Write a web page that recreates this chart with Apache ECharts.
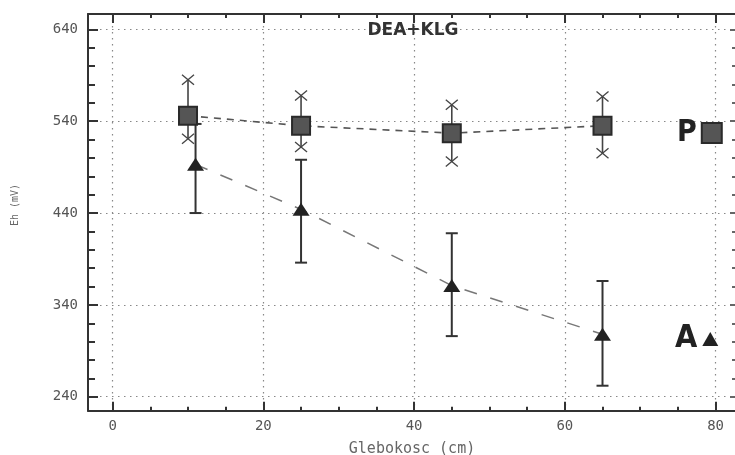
<!DOCTYPE html>
<html>
<head>
<meta charset="utf-8">
<script src="https://cdn.jsdelivr.net/npm/echarts@6/dist/echarts.min.js"></script>
<style>
  html, body { margin: 0; padding: 0; background: #ffffff; }
  #chart { width: 735px; height: 455px; }
</style>
</head>
<body>
<div id="chart"></div>
<script>
// ---- data ----
const depthP = [10, 25, 45, 65];
const pMean  = [546, 535, 527, 535];
const pLow   = [521, 512, 496, 505];
const pHigh  = [585, 568, 558, 567];

const depthA = [11, 25, 45, 65];
const aMean  = [493, 444, 361, 308];
const aLow   = [440, 386, 306, 252];
const aHigh  = [537, 498, 418, 366];

const xTicks = [0, 20, 40, 60, 80];
const xMinor = [5, 10, 15, 25, 30, 35, 45, 50, 55, 65, 70, 75];
const yTicks = [240, 340, 440, 540, 640];
const yMinor = [260, 280, 300, 320, 360, 380, 400, 420, 460, 480, 500, 520, 560, 580, 600, 620];

const titleText = 'DEA+KLG';
const xName = 'Glebokosc (cm)';
const yName = 'Eh (mV)';

// ---- chart ----
const chart = echarts.init(document.getElementById('chart'), null, { renderer: 'canvas' });

const X_MIN = -3.27, X_MAX = 82.58, Y_MIN = 224.8, Y_MAX = 656.7;
const frameLine = { show: true, onZero: false, lineStyle: { color: '#333', width: 2 } };
const noLine = { show: false, onZero: false };
const labelFont = { fontFamily: 'DejaVu Sans Mono', fontSize: 14, color: '#555' };
const dotted = { show: true, lineStyle: { color: '#888', width: 1.2, type: [1.5, 4.5] } };

function xAx(pos, major, withLabels) {
  return {
    type: 'value', gridIndex: 0, position: pos, min: X_MIN, max: X_MAX,
    axisLine: major ? frameLine : noLine,
    axisTick: { show: true, inside: true, length: major ? 9 : 4,
      customValues: major ? xTicks : xMinor, lineStyle: { color: '#333', width: 2 } },
    axisLabel: withLabels ? Object.assign({ show: true, customValues: xTicks, margin: 9 }, labelFont) : { show: false },
    splitLine: withLabels ? dotted : { show: false }
  };
}
function yAx(pos, major, withLabels, showLine) {
  return {
    type: 'value', gridIndex: 0, position: pos, min: Y_MIN, max: Y_MAX,
    axisLine: (major && showLine) ? frameLine : noLine,
    axisTick: { show: true, inside: true, length: major ? (showLine ? 10 : 5) : (showLine ? 7 : 3),
      customValues: major ? yTicks : yMinor, lineStyle: { color: showLine ? '#333' : '#666', width: 2 } },
    axisLabel: withLabels ? Object.assign({ show: true, customValues: yTicks, margin: 10 }, labelFont) : { show: false },
    splitLine: withLabels ? dotted : { show: false }
  };
}

function errBar(kind, color, lw) {
  return function (params, api) {
    const x = api.value(0), lo = api.value(1), hi = api.value(2);
    const a = api.coord([x, lo]), b = api.coord([x, hi]);
    const st = { stroke: color, lineWidth: lw };
    const ch = [{ type: 'line', shape: { x1: a[0], y1: a[1], x2: b[0], y2: b[1] }, style: st }];
    [a, b].forEach(function (p) {
      if (kind === 'cap') {
        ch.push({ type: 'line', shape: { x1: p[0] - 6, y1: p[1], x2: p[0] + 6, y2: p[1] }, style: st });
      } else {
        const sx = { stroke: color, lineWidth: 1.3 };
        ch.push({ type: 'line', shape: { x1: p[0] - 6, y1: p[1] - 5, x2: p[0] + 6, y2: p[1] + 5 }, style: sx });
        ch.push({ type: 'line', shape: { x1: p[0] - 6, y1: p[1] + 5, x2: p[0] + 6, y2: p[1] - 5 }, style: sx });
      }
    });
    return { type: 'group', children: ch };
  };
}

const option = {
  backgroundColor: '#ffffff',
  animation: false,
  grid: { left: 88, top: 14, right: 0, bottom: 44.3, containLabel: false },
  xAxis: [xAx('bottom', true, true), xAx('bottom', false, false), xAx('top', true, false), xAx('top', false, false)],
  yAxis: [yAx('left', true, true, true), yAx('left', false, false, true), yAx('right', true, false, false), yAx('right', false, false, false)],
  legend: [
    { data: ['P'], left: 672, top: 113, align: 'right', itemWidth: 20, itemHeight: 20, selectedMode: false,
      icon: 'rect', padding: 5,
      textStyle: { fontFamily: 'Liberation Sans Narrow, DejaVu Sans Condensed, sans-serif', fontWeight: 'bold', fontSize: 30, color: '#222' } },
    { data: ['A'], left: 670, top: 318, align: 'right', itemWidth: 16, itemHeight: 14, selectedMode: false,
      icon: 'triangle', padding: 5,
      textStyle: { fontFamily: 'Liberation Sans Narrow, DejaVu Sans Condensed, sans-serif', fontWeight: 'bold', fontSize: 32, color: '#222' } }
  ],
  graphic: [
    { type: 'text', x: 413, y: 31, z: 10,
      style: { text: titleText, align: 'center', verticalAlign: 'middle',
        font: 'bold 17px "DejaVu Sans"', fill: '#333' } },
    { type: 'text', x: 412, y: 449, z: 10,
      style: { text: xName, align: 'center', verticalAlign: 'middle',
        font: '15px "DejaVu Sans Mono"', fill: '#666' } },
    { type: 'text', x: 15, y: 205, rotation: Math.PI / 2, z: 10,
      style: { text: yName, align: 'center', verticalAlign: 'middle',
        font: '10px "DejaVu Sans Mono"', fill: '#666' } }
  ],
  series: [
    { name: 'Pline', type: 'line', xAxisIndex: 0, yAxisIndex: 0, symbol: 'none', z: 2,
      data: depthP.map(function (d, i) { return [d, pMean[i]]; }),
      lineStyle: { color: '#555', width: 1.6, type: [7, 6] } },
    { name: 'Aline', type: 'line', xAxisIndex: 0, yAxisIndex: 0, symbol: 'none', z: 2,
      data: depthA.map(function (d, i) { return [d, aMean[i]]; }),
      lineStyle: { color: '#777', width: 1.5, type: [13, 14] } },
    { name: 'Perr', type: 'custom', xAxisIndex: 0, yAxisIndex: 0, z: 3,
      renderItem: errBar('cross', '#444', 1.6), encode: { x: 0, y: [1, 2] },
      data: depthP.map(function (d, i) { return [d, pLow[i], pHigh[i]]; }) },
    { name: 'Aerr', type: 'custom', xAxisIndex: 0, yAxisIndex: 0, z: 3,
      renderItem: errBar('cap', '#333', 2), encode: { x: 0, y: [1, 2] },
      data: depthA.map(function (d, i) { return [d, aLow[i], aHigh[i]]; }) },
    { name: 'A', type: 'scatter', xAxisIndex: 0, yAxisIndex: 0, z: 4,
      symbol: 'triangle', symbolSize: [17, 13],
      itemStyle: { color: '#222', opacity: 1 },
      data: depthA.map(function (d, i) { return [d, aMean[i]]; }) },
    { name: 'P', type: 'scatter', xAxisIndex: 0, yAxisIndex: 0, z: 5,
      symbol: 'rect', symbolSize: 18,
      itemStyle: { color: '#555', borderColor: '#2a2a2a', borderWidth: 2, opacity: 1 },
      data: depthP.map(function (d, i) { return [d, pMean[i]]; }) }
  ]
};
chart.setOption(option);
</script>
</body>
</html>
